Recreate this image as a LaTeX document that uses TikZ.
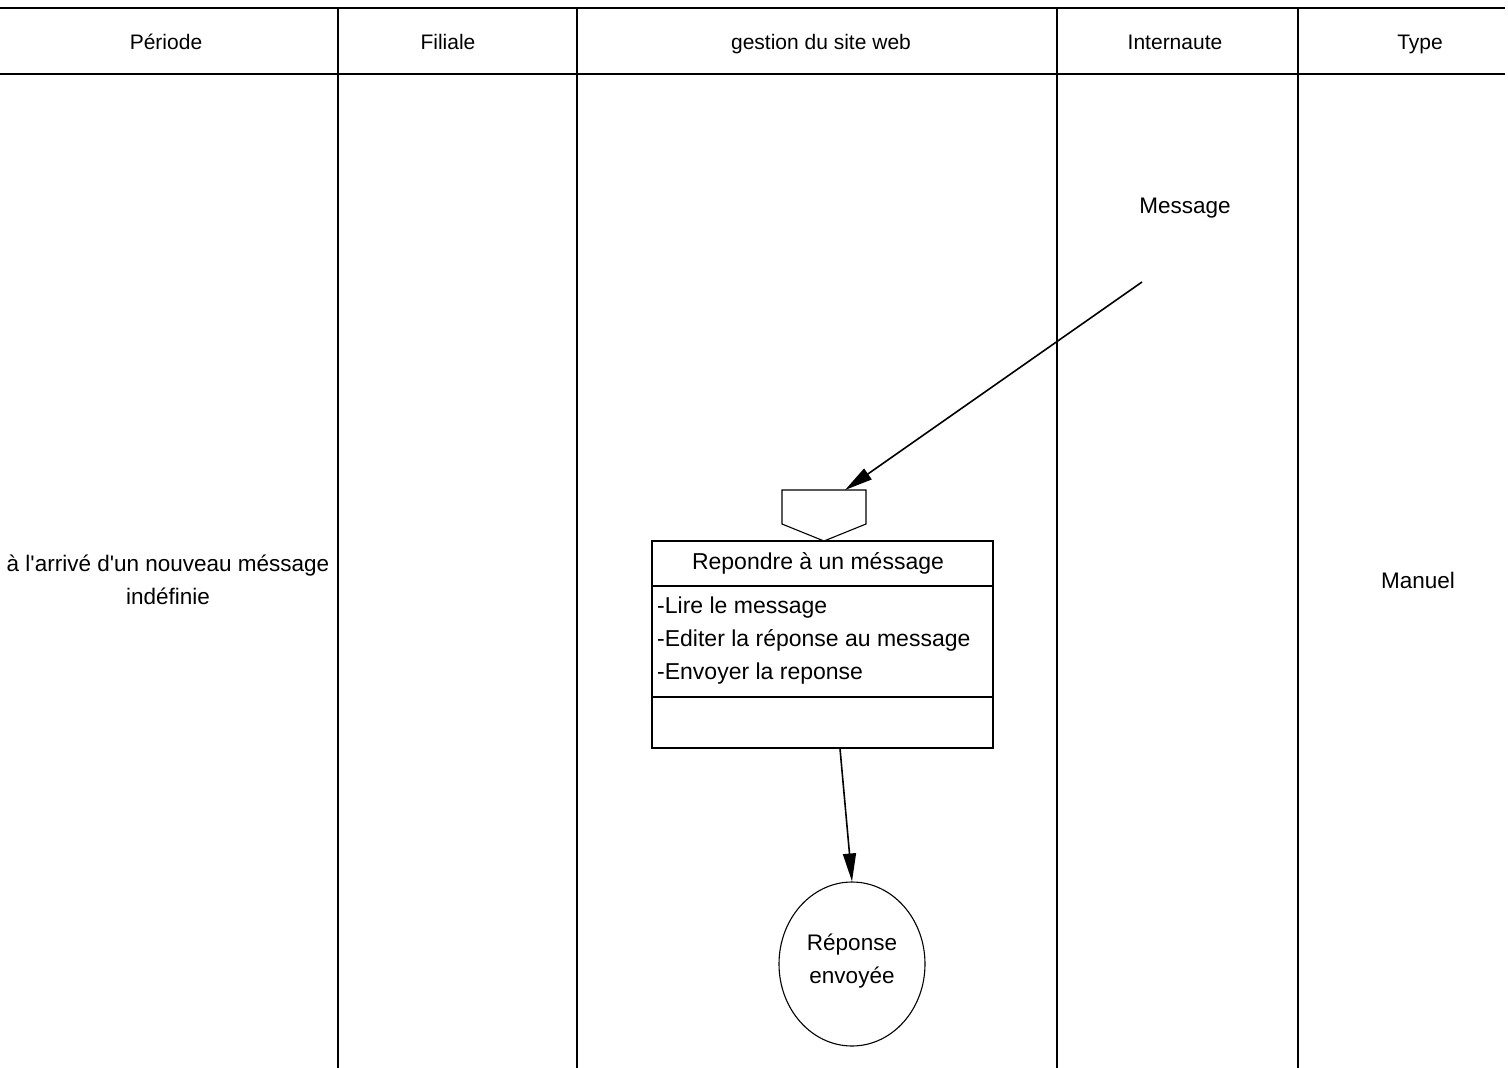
\documentclass[tikz,border=0pt]{standalone}
\usepackage{fontspec}
\setmainfont{Liberation Sans}[Ligatures=TeXOff]
\usetikzlibrary{shapes.geometric,arrows.meta}
\begin{document}
\begin{tikzpicture}[x=1pt,y=-1pt,
  lane/.style={line width=2pt},
  head/.style={font=\fontsize{21}{25}\selectfont, inner sep=0pt, text height=15pt, text depth=4pt},
  txt/.style={font=\fontsize{22.5}{33}\selectfont, inner sep=0pt},
  boxtxt/.style={font=\fontsize{23}{33}\selectfont, inner sep=0pt},
  boxline/.style={line width=1.1pt},
  flow/.style={line width=1.6pt, -{Triangle[length=28pt,width=13pt]}}]
\useasboundingbox (0,0) rectangle (1508,1068);
% swimlane grid
\draw[lane] (0,8) -- (1505,8);
\draw[lane] (0,74) -- (1505,74);
\foreach \x in {338,577,1057,1298} \draw[lane] (\x,8) -- (\x,1068);
% column headings
\node[head] (hper) at (166,44) {Période};
\node[head] (hfil) at (448,44) {Filiale};
\node[head] (hges) at (821,44) {gestion du site web};
\node[head] (hint) at (1175,44) {Internaute};
\node[head] (htyp) at (1420,44) {Type};
% period and type
\node[txt, align=center] (per) at (168,580) {à l'arrivé d'un nouveau méssage\\indéfinie};
\node[txt] (typ) at (1418,580) {Manuel};
% incoming message
\node[txt] (msg) at (1185,208) {Message};
\coordinate (msgout) at (1142,282);
% synchronisation (event) shape
\draw[boxline] (782,490) -- (866,490) -- (866,524) -- (824,541) -- (782,524) -- cycle;
\coordinate (evt) at (845,490);
% activity box
\node[boxline, draw, minimum width=341pt, minimum height=207pt, inner sep=0pt] (act) at (822.5,644.5) {};
\draw[boxline] (652,586) -- (993,586);
\draw[boxline] (652,697) -- (993,697);
\node[boxtxt] (title) at (818,563) {Repondre à un méssage};
\node[boxtxt, align=left, anchor=north west] (body) at (657,597) {-Lire le message\\-Editer la réponse au message\\-Envoyer la reponse};
\coordinate (actout) at (act.south -| 840,0);
% result
\node[draw, ellipse, line width=1.1pt, minimum width=146pt, minimum height=164pt, inner sep=0pt] (res) at (852,964) {};
\node[txt, align=center] (restxt) at (852,961) {Réponse\\envoyée};
% flows
\draw[flow] (msgout) -- (evt);
\draw[flow] (actout) -- (res.north);
\end{tikzpicture}
\end{document}
